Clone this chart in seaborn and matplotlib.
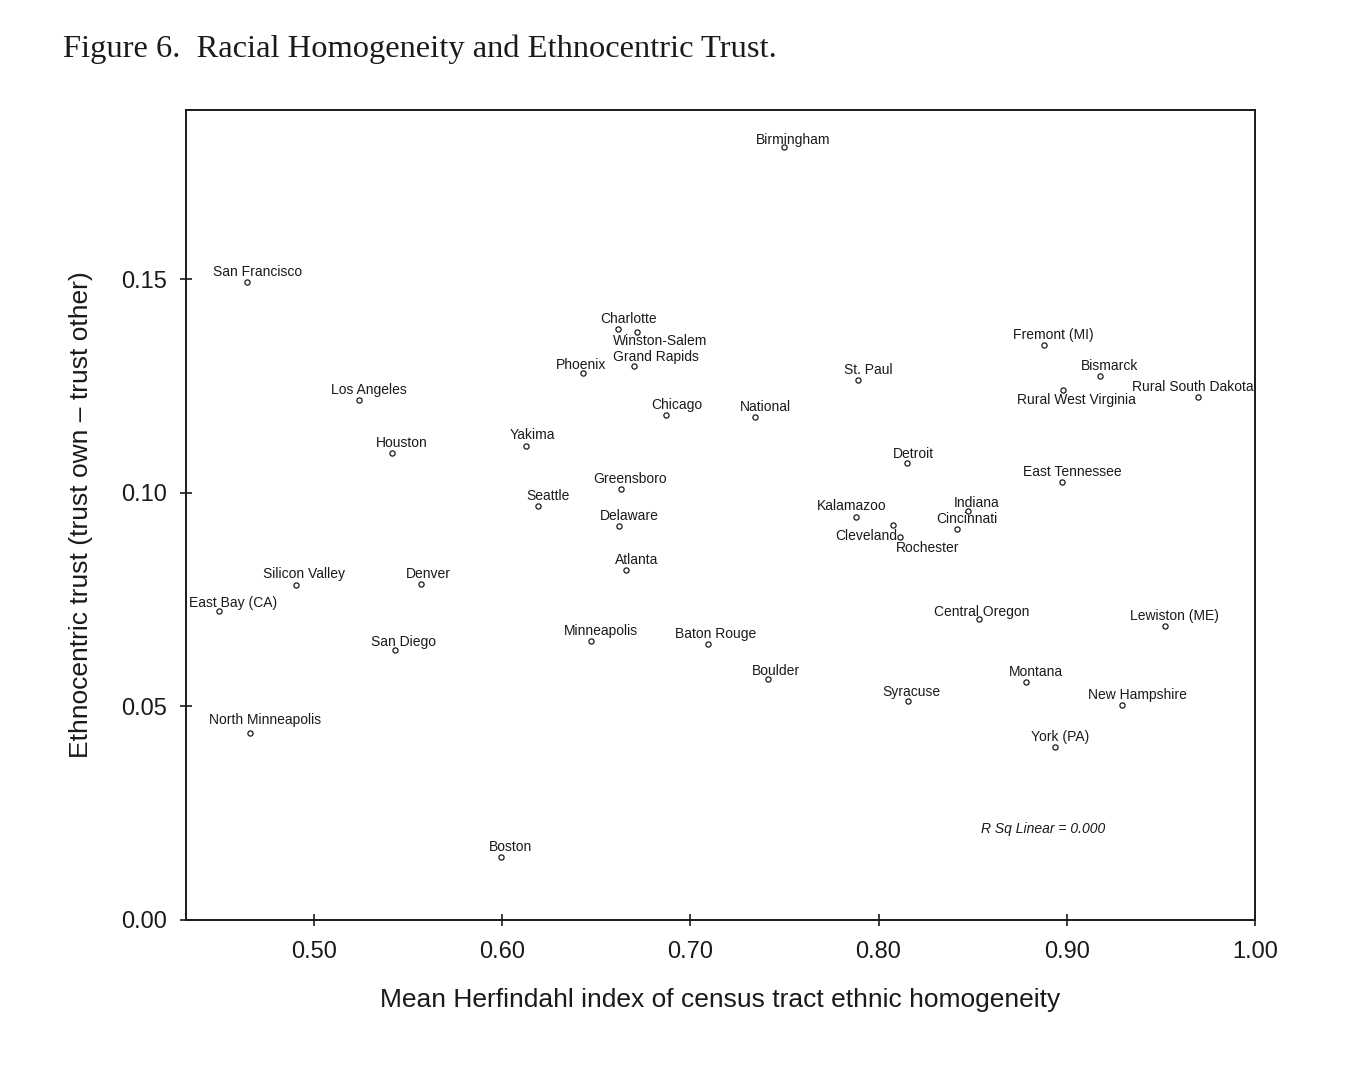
import matplotlib
matplotlib.use("Agg")
import matplotlib.pyplot as plt
import seaborn as sns
import pandas as pd

# data
places = ['Birmingham', 'San Francisco', 'Charlotte', 'Winston-Salem', 'Grand Rapids',
          'Phoenix', 'Los Angeles', 'Chicago', 'National', 'St. Paul', 'Houston', 'Yakima',
          'Detroit', 'Fremont (MI)', 'Bismarck', 'Rural West Virginia', 'Rural South Dakota',
          'East Tennessee', 'Greensboro', 'Seattle', 'Delaware', 'Atlanta', 'Kalamazoo',
          'Cleveland', 'Rochester', 'Indiana', 'Cincinnati', 'Silicon Valley', 'Denver',
          'East Bay (CA)', 'San Diego', 'Minneapolis', 'Baton Rouge', 'Boulder', 'Syracuse',
          'Central Oregon', 'Lewiston (ME)', 'Montana', 'New Hampshire', 'York (PA)',
          'North Minneapolis', 'Boston']
homogeneity = [0.750, 0.4645, 0.6618, 0.6719, 0.670,
               0.6432, 0.5239, 0.6873, 0.7345, 0.7891, 0.5414, 0.6125,
               0.8151, 0.8878, 0.9175, 0.8979, 0.9695,
               0.8973, 0.6629, 0.6188, 0.6623, 0.666, 0.788,
               0.8077, 0.8114, 0.8475, 0.8416, 0.4905, 0.5568,
               0.4496, 0.543, 0.647, 0.7095, 0.7414, 0.8156,
               0.8533, 0.952, 0.8782, 0.9292, 0.8936,
               0.466, 0.5992]
ethno_trust = [0.181, 0.1494, 0.1384, 0.1377, 0.1297,
               0.1281, 0.1218, 0.1182, 0.1178, 0.1264, 0.1093, 0.111,
               0.107, 0.1346, 0.1274, 0.1241, 0.1225,
               0.1026, 0.1009, 0.0969, 0.0922, 0.0819, 0.0944,
               0.0925, 0.0897, 0.0958, 0.0915, 0.0784, 0.0787,
               0.0723, 0.0632, 0.0653, 0.0646, 0.0564, 0.0513,
               0.0705, 0.0688, 0.0557, 0.0503, 0.0405,
               0.0438, 0.0148]
x_ticks = [0.50, 0.60, 0.70, 0.80, 0.90, 1.00]
y_ticks = [0.00, 0.05, 0.10, 0.15]

df = pd.DataFrame({'place': places, 'x': homogeneity, 'y': ethno_trust})

# label placement (pixel offsets from the point), default is above-right
label_offset = {'Winston-Salem': (23, -9), 'Grand Rapids': (22, 9), 'Phoenix': (-2, 8),
                'Rural West Virginia': (14, -10), 'Rural South Dakota': (-5, 10),
                'Kalamazoo': (-4, 11), 'Cleveland': (-27, -11), 'Rochester': (28, -11),
                'Syracuse': (3, 9), 'Central Oregon': (3, 7), 'Yakima': (7, 11),
                'Detroit': (6, 9), 'North Minneapolis': (15, 13),
                'East Bay (CA)': (14, 8), 'San Diego': (9, 8), 'Boulder': (8, 8),
                'Indiana': (9, 8), 'Denver': (7, 10), 'Baton Rouge': (7, 10),
                'York (PA)': (5, 10), 'Birmingham': (9, 7), 'Silicon Valley': (8, 11),
                'New Hampshire': (16, 10), 'East Tennessee': (11, 10)}

sns.set_style("white")
plt.rcParams['font.family'] = ['Liberation Sans', 'DejaVu Sans']

fig = plt.figure(figsize=(13.7, 10.76), dpi=100)
ax = fig.add_axes([0.1358, 0.145, 0.916 - 0.1358, 0.8978 - 0.145])

sns.scatterplot(data=df, x='x', y='y', ax=ax, marker='o', s=14,
                facecolor='white', edgecolor='#1a1a1a', linewidth=0.9, zorder=3)

for _, r in df.iterrows():
    dx, dy = label_offset.get(r['place'], (10, 10))
    ax.annotate(r['place'], (r['x'], r['y']), xytext=(dx, dy), textcoords='offset pixels',
                ha='center', va='center', fontsize=10, color='#1a1a1a')

ax.text(0.8873, 0.0213, 'R Sq Linear = 0.000', ha='center', va='center',
        fontsize=10, style='italic', color='#1a1a1a')

ax.set_xlim(0.432, 1.0)
ax.set_ylim(0.0, 0.1897)
ax.set_xticks(x_ticks)
ax.set_yticks(y_ticks)
ax.set_xticklabels([f'{v:.2f}' for v in x_ticks])
ax.set_yticklabels([f'{v:.2f}' for v in y_ticks])
ax.tick_params(axis='both', direction='inout', length=8, width=1.2, color='#1a1a1a',
               labelsize=17, labelcolor='#1a1a1a', bottom=True, left=True)
ax.tick_params(axis='x', pad=11)
ax.tick_params(axis='y', pad=10)
for sp in ax.spines.values():
    sp.set_visible(True)
    sp.set_color('#1a1a1a')
    sp.set_linewidth(1.4)

ax.set_xlabel('Mean Herfindahl index of census tract ethnic homogeneity',
              fontsize=19, color='#1a1a1a', labelpad=18)
ax.set_ylabel('Ethnocentric trust (trust own \u2013 trust other)',
              fontsize=19, color='#1a1a1a', labelpad=20)

fig.text(63 / 1370, 1 - 49 / 1076, 'Figure 6.  Racial Homogeneity and Ethnocentric Trust.',
         family='Liberation Serif', fontsize=23.4, ha='left', va='center', color='#1a1a1a')

fig.savefig('out.png', dpi=100, facecolor='white')
